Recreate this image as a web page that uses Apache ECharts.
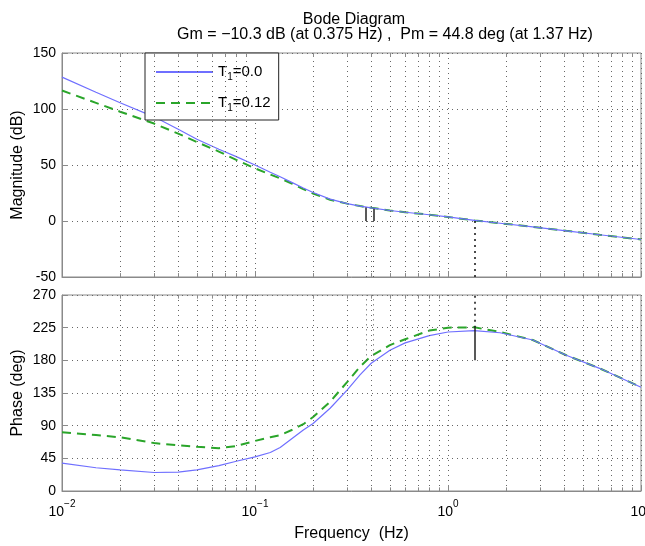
<!DOCTYPE html>
<html>
<head>
<meta charset="utf-8">
<script src="https://cdn.jsdelivr.net/npm/echarts@6/dist/echarts.min.js"></script>
<style>html,body{margin:0;padding:0;background:#fff}#c{width:645px;height:546px}</style>
</head>
<body>
<div id="c"></div>
<script>
// ---- data ----
const freq = [0.01, 0.015, 0.02, 0.03, 0.04, 0.05, 0.065, 0.08, 0.1, 0.12, 0.135, 0.155, 0.178, 0.2, 0.245, 0.3, 0.35, 0.4, 0.5, 0.6, 0.8, 1.0, 1.37, 1.86, 2.75, 4.1, 6.1, 10];
const magT0  = [128.5, 115, 105.6, 93, 82, 73, 64, 57.5, 50, 43.5, 39.5, 34.5, 29.5, 25.5, 19.5, 15.5, 13.3, 11.8, 9.4, 7.8, 5.6, 3.6, 0.5, -2, -5.2, -8.8, -12.3, -16.5];
const magT12 = [116.5, 105.5, 97.6, 87, 78, 70.5, 62, 54.6, 47, 41.5, 38, 33.5, 28.5, 24.5, 19, 15.5, 13.3, 11.8, 9.4, 7.8, 5.6, 3.6, 0.5, -2, -5.2, -8.8, -12.3, -16.5];
const phaseT0  = [38.5, 32, 29, 25.5, 26, 29, 35, 41, 47, 53, 60, 72, 84, 93, 114, 139, 160, 176, 194, 204, 214, 219, 221, 218, 208, 187, 169, 143];
const phaseT12 = [81, 77, 74, 66, 63, 61, 59, 62, 69, 74, 77, 84, 92, 102, 123, 150, 171, 186, 201, 209, 221, 225, 225.5, 219, 208, 187, 169, 143];
const seriesNames = ['T1=0.0', 'T1=0.12'];
const minorFreqs = [0.02,0.03,0.04,0.05,0.06,0.07,0.08,0.09,0.2,0.3,0.4,0.5,0.6,0.7,0.8,0.9,2,3,4,5,6,7,8,9];
const magTicks = {min: -50, max: 150, interval: 50};
const phaseTicks = {min: 0, max: 270, interval: 45};
const gmFreqs = [0.375, 0.41];
const gmTops = [12, 11];
const pmFreq = 1.37;
const pmPhase = 224.8;
const titleText = 'Bode Diagram';
const subText = 'Gm = \u221210.3 dB (at 0.375 Hz) ,  Pm = 44.8 deg (at 1.37 Hz)';

// ---- styling ----
const FONT = '"Liberation Sans", Arial, sans-serif';
const BLUE = '#6f6fff';
const GREEN = '#2aa52a';
const GRIDC = '#8a8a8a';

function pair(x1, y1, x2, y2, style) {
  return [{coord: [x1, y1], lineStyle: style}, {coord: [x2, y2]}];
}
const dotted = {type: [1, 4], color: '#555', width: 1};
const dottedBold = {type: [2, 4], color: '#111', width: 1.5};
const solidBlack = {type: 'solid', color: '#222', width: 1.5};
const tickStyle = {type: 'solid', color: GRIDC, width: 1};

function minorGrid(yr, tickLen) {
  const out = minorFreqs.map(f => ({xAxis: f}));
  minorFreqs.forEach(f => {
    out.push(pair(f, yr.min, f, yr.min + tickLen, tickStyle));
    out.push(pair(f, yr.max - tickLen, f, yr.max, tickStyle));
  });
  return out;
}

const magMarkers = [];
gmFreqs.forEach((f, i) => {
  magMarkers.push(pair(f, 0, f, gmTops[i], solidBlack));
  magMarkers.push(pair(f, magTicks.min, f, 0, dotted));
});
magMarkers.push(pair(pmFreq, magTicks.min, pmFreq, 0, dottedBold));

const phMarkers = [];
gmFreqs.forEach(f => phMarkers.push(pair(f, 180, f, phaseTicks.max, dotted)));
phMarkers.push(pair(pmFreq, pmPhase, pmFreq, phaseTicks.max, dottedBold));
phMarkers.push(pair(pmFreq, 180, pmFreq, pmPhase, solidBlack));

function logLabel(v) {
  const e = Math.round(Math.log10(v));
  return '{b|10}{s|' + (e < 0 ? '\u2212' + (-e) : e) + '}';
}

const xBase = {
  type: 'log', logBase: 10, min: 0.01, max: 10,
  axisLine: {show: true, onZero: false, lineStyle: {color: GRIDC}},
  axisTick: {show: true, inside: true, length: 6, lineStyle: {color: GRIDC}},
  splitLine: {show: true, lineStyle: {type: [1, 4], color: '#666'}},
  minorTick: {show: false}
};
const yBase = {
  type: 'value',
  axisLine: {show: true, lineStyle: {color: GRIDC}},
  axisTick: {show: true, inside: true, length: 6, lineStyle: {color: GRIDC}},
  splitLine: {show: true, lineStyle: {type: [1, 4], color: '#666'}},
  axisLabel: {color: '#000', fontFamily: FONT, fontSize: 14, margin: 6},
  nameLocation: 'middle', nameGap: 36, nameMoveOverlap: false,
  nameTextStyle: {color: '#000', fontFamily: FONT, fontSize: 16}
};

const chart = echarts.init(document.getElementById('c'), null, {renderer: 'canvas'});
chart.setOption({
  animation: false,
  backgroundColor: '#fff',
  graphic: [
    {type: 'text', x: 354, y: 12, style: {text: titleText, textAlign: 'center', font: '16px ' + FONT, fill: '#000'}},
    {type: 'text', x: 385, y: 27, style: {text: subText, textAlign: 'center', font: '16px ' + FONT, fill: '#000'}}
  ],
  grid: [
    {left: 62, top: 53, width: 579, height: 224, show: true, borderColor: GRIDC, borderWidth: 1, outerBoundsMode: 'none', containLabel: false},
    {left: 62, top: 295, width: 579, height: 196, show: true, borderColor: GRIDC, borderWidth: 1, outerBoundsMode: 'none', containLabel: false}
  ],
  legend: {
    data: seriesNames,
    left: 145, top: 53, orient: 'vertical',
    backgroundColor: '#fff', borderColor: '#222', borderWidth: 1,
    padding: [9, 8, 7, 10], itemGap: 11, itemWidth: 57, itemHeight: 14,
    itemStyle: {opacity: 0},
    formatter: n => '{t|T}{sub|1}{t|' + n.slice(2) + '}',
    textStyle: {
      color: '#000', fontFamily: FONT, fontSize: 15,
      rich: {
        t: {fontSize: 15, fontFamily: FONT, color: '#000', lineHeight: 20},
        sub: {fontSize: 10, fontFamily: FONT, color: '#000', lineHeight: 20, verticalAlign: 'bottom', padding: [10, 0, 0, 0]}
      }
    }
  },
  xAxis: [
    Object.assign({}, xBase, {gridIndex: 0, axisLabel: {show: false}}),
    Object.assign({}, xBase, {
      gridIndex: 1,
      name: 'Frequency  (Hz)', nameLocation: 'middle', nameGap: 35,
      nameTextStyle: {color: '#000', fontFamily: FONT, fontSize: 16},
      axisLabel: {
        color: '#000', fontFamily: FONT, margin: 8, formatter: logLabel,
        rich: {
          b: {fontSize: 14, fontFamily: FONT, color: '#000', lineHeight: 20, verticalAlign: 'bottom'},
          s: {fontSize: 10, fontFamily: FONT, color: '#000', lineHeight: 20, verticalAlign: 'top', padding: [0, 0, 8, 0]}
        }
      }
    })
  ],
  yAxis: [
    Object.assign({}, yBase, {gridIndex: 0, name: 'Magnitude (dB)'}, magTicks),
    Object.assign({}, yBase, {gridIndex: 1, name: 'Phase (deg)'}, phaseTicks)
  ],
  series: [
    {
      name: seriesNames[0], type: 'line', xAxisIndex: 0, yAxisIndex: 0,
      data: freq.map((f, i) => [f, magT0[i]]),
      showSymbol: false, symbol: 'none', lineStyle: {color: BLUE, width: 1.2}, itemStyle: {color: BLUE}, z: 3,
      markLine: {silent: true, symbol: 'none', label: {show: false}, animation: false,
        lineStyle: {type: [1, 4], color: '#666', width: 1}, data: minorGrid(magTicks, 3.5)}
    },
    {
      name: seriesNames[1], type: 'line', xAxisIndex: 0, yAxisIndex: 0,
      data: freq.map((f, i) => [f, magT12[i]]),
      showSymbol: false, symbol: 'none', lineStyle: {color: GREEN, width: 2, type: [9, 6]}, itemStyle: {color: GREEN}, z: 2,
      markLine: {silent: true, symbol: 'none', label: {show: false}, animation: false, data: magMarkers}
    },
    {
      name: seriesNames[0], type: 'line', xAxisIndex: 1, yAxisIndex: 1,
      data: freq.map((f, i) => [f, phaseT0[i]]),
      showSymbol: false, symbol: 'none', lineStyle: {color: BLUE, width: 1.2}, itemStyle: {color: BLUE}, z: 3,
      markLine: {silent: true, symbol: 'none', label: {show: false}, animation: false,
        lineStyle: {type: [1, 4], color: '#666', width: 1}, data: minorGrid(phaseTicks, 5)}
    },
    {
      name: seriesNames[1], type: 'line', xAxisIndex: 1, yAxisIndex: 1,
      data: freq.map((f, i) => [f, phaseT12[i]]),
      showSymbol: false, symbol: 'none', lineStyle: {color: GREEN, width: 2, type: [9, 6]}, itemStyle: {color: GREEN}, z: 2,
      markLine: {silent: true, symbol: 'none', label: {show: false}, animation: false, data: phMarkers}
    }
  ]
});
</script>
</body>
</html>
